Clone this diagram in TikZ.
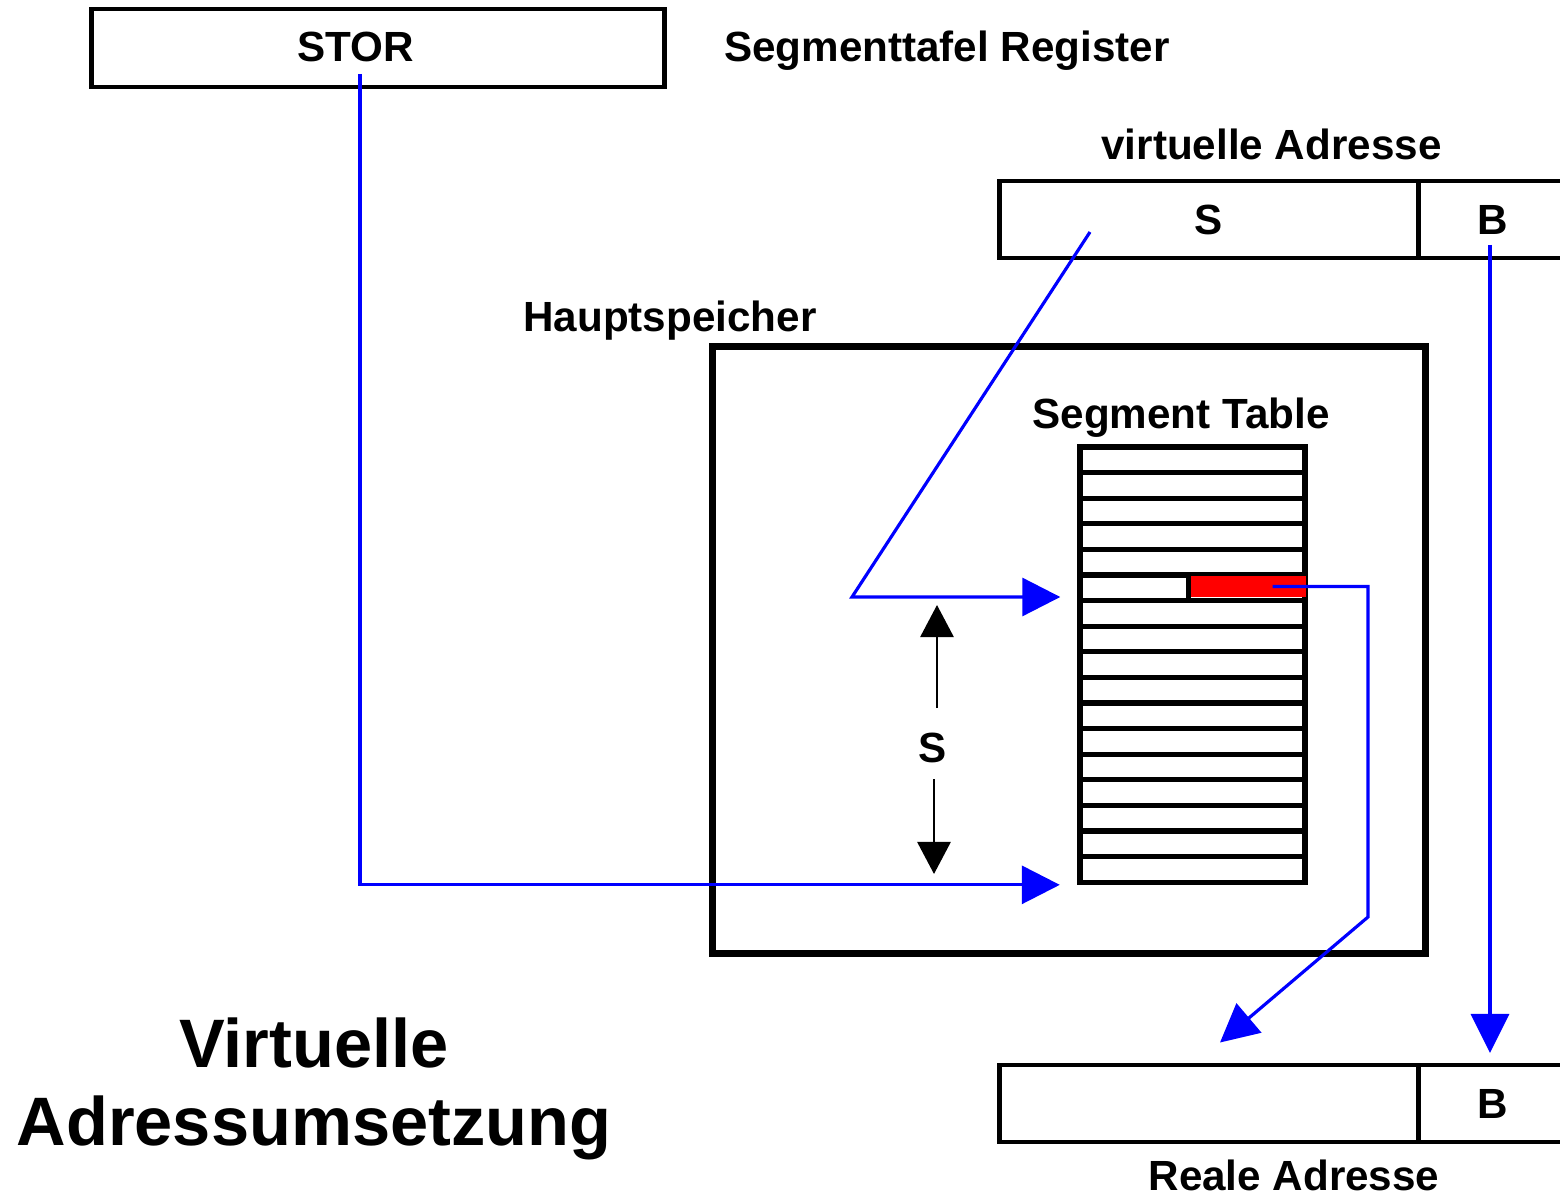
\documentclass[tikz,border=0pt]{standalone}
\usepackage{fontspec}
\setmainfont{Liberation Sans}
\usetikzlibrary{arrows.meta}
\tikzset{
  lbl/.style={font=\bfseries\fontsize{12}{14}\selectfont, inner sep=0pt, anchor=base},
  bigtitle/.style={font=\bfseries\fontsize{19.5}{22}\selectfont, inner sep=0pt, anchor=base},
  cell/.style={draw, line width=1.4pt, inner sep=0pt, minimum height=0.77cm,
    font=\bfseries\fontsize{12}{14}\selectfont},
  rowbox/.style={draw, line width=1.5pt, inner sep=0pt, minimum width=2.25cm, minimum height=0.256cm},
  link/.style={draw=blue, line width=0.9pt},
  bigtip/.style={-{Triangle[length=0.38cm,width=0.38cm]}},
  smalltip/.style={-{Triangle[length=0.32cm,width=0.33cm]}},
}
\begin{document}
\begin{tikzpicture}[x=0.01cm,y=-0.01cm]
\useasboundingbox (0,0) rectangle (1560,1197);
\fill[white] (0,0) rectangle (1560,1197);

% segment table register
\node[cell, minimum width=5.72cm, minimum height=0.78cm] (stor) at (378,48) {};
\node[lbl] (stortxt) at (356,62) {STOR};
\node[lbl] (regtxt) at (947,62) {Segmenttafel Register};

% virtual address
\node[lbl] (vtitle) at (1271.5,160) {virtuelle Adresse};
\node[cell, minimum width=4.18cm] (vS) at (1209,219.5) {S};
\node[cell, minimum width=1.5cm] (vB) at (1493,219.5) {B};

% real address
\node[cell, minimum width=4.18cm] (rS) at (1209,1103.5) {};
\node[cell, minimum width=1.5cm] (rB) at (1493,1103.5) {B};
\node[lbl] (rtitle) at (1294,1190) {Reale Adresse};

% main memory with the segment table
\node[draw, line width=2pt, inner sep=0pt, minimum width=7.12cm, minimum height=6.06cm] (hs) at (1069,650) {};
\node[lbl] (hstxt) at (670,331) {Hauptspeicher};
\node[lbl] (sttxt) at (1181,428) {Segment Table};
\foreach \i in {1,...,17}
  \node[rowbox] (row\i) at (1192.5,{447+25.6*(\i-0.5)}) {};
\node[fill=red, inner sep=0pt, minimum width=1.15cm, minimum height=0.21cm] (entry) at (1248,586.5) {};
\draw[line width=1.4pt] ([xshift=-0.015cm]entry.north west) -- ([xshift=-0.015cm]entry.south west);

% table origin from STOR
\coordinate (storout) at (360,74);
\draw[link, bigtip, shorten >=0.175cm] (storout) |- (row17.south west);

% segment index
\coordinate (sfrom) at (1090,232);
\coordinate (sbend) at (852,597);
\draw[link, bigtip, shorten >=0.17cm] (sfrom) -- (sbend) -- (sbend -| row6.west);

% displacement S
\node[lbl] (slabel) at (933,762) {S};
\coordinate (supfrom) at (937,708);
\coordinate (suptip) at (937,605);
\draw[line width=0.8pt, smalltip] (supfrom) -- (suptip);
\coordinate (sdnfrom) at (934,779);
\coordinate (sdntip) at (934,874);
\draw[line width=0.8pt, smalltip] (sdnfrom) -- (sdntip);

% page frame address from the table entry
\coordinate (rdown) at (1368,917);
\draw[link, bigtip] ([xshift=0.245cm]entry.center) -| (rdown) -- ([shift={(11,-20)}]rS.north);

% byte offset passed through
\coordinate (bfrom) at (1490,245);
\coordinate (btip) at (1490,1053);
\draw[link, -{Triangle[length=0.39cm,width=0.38cm]}] (bfrom) -- (btip);

% title
\node[bigtitle] (title1) at (314,1067) {Virtuelle};
\node[bigtitle] (title2) at (314,1145) {Adressumsetzung};
\end{tikzpicture}
\end{document}
